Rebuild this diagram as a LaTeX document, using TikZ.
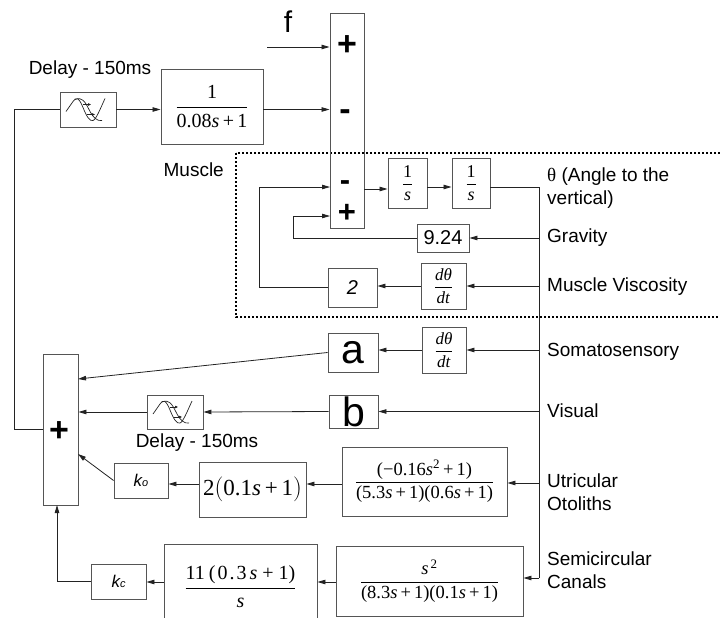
\documentclass[tikz,border=0pt]{standalone}
\usepackage{fontspec}
\setmainfont{Liberation Sans}
\newfontfamily\tm{Liberation Serif}
\usetikzlibrary{arrows.meta}
\definecolor{boxc}{RGB}{85,85,85}
\definecolor{linec}{RGB}{35,35,35}
\newcommand\sv{\textit{s}}
\newcommand\fr[2]{$\displaystyle\frac{\hbox{\tm #1}}{\hbox{\tm #2}}$}
\tikzset{
  blk/.style={draw=boxc, line width=0.9pt, inner sep=0pt, rectangle},
  conn/.style={draw=linec, line width=0.8pt},
  arr/.style={conn, -{Triangle[length=8pt,width=4.5pt]}},
  lbl/.style={font=\fontsize{19}{23}\selectfont, inner sep=0pt},
  sym/.style={font=\fontsize{34}{34}\selectfont\bfseries, inner sep=0pt},
  symsm/.style={font=\fontsize{31}{31}\selectfont\bfseries, inner sep=0pt},
  icon/.style={draw=linec, line width=0.7pt},
  iconarr/.style={draw=linec, line width=0.6pt, -{Triangle[length=3pt,width=2.5pt]}},
}
\begin{document}
\begin{tikzpicture}[x=1pt, y=-1pt]
\useasboundingbox (0,0) rectangle (720,618);
% dotted region
\draw[dotted, line width=2pt] (236,153) rectangle (740,317);

% top summing block
\node[blk, minimum width=34pt, minimum height=215pt] (sumA) at (347,120.5) {};
\node[sym] (pA1) at (347,46) {+};
\node[sym] (mA1) at (345,115) {-};
\node[symsm] (mA2) at (345,186) {-};
\node[symsm] (pA2) at (347,213) {+};
\node[font=\fontsize{30}{30}\selectfont, inner sep=0pt] (fl) at (288,22) {f};
\coordinate (fin) at (267,47);
\draw[arr] (fin) -- (fin -| sumA.west);

% delay + first order block
\node[lbl] (dl1) at (90,70) {Delay - 150ms};
\node[blk, minimum width=56pt, minimum height=35pt] (delayA) at (88,109.5) {};
\begin{scope}[shift={(delayA.center)}]
  \draw[icon] (-22,2) -- (-15,-8) .. controls (-12,-13) and (-9,-12) .. (-5,-2) .. controls (-1,8) and (2,12) .. (5,11) .. controls (8,10) and (12,0) .. (17,-11);
  \draw[icon] (-13,-10) .. controls (-6,-13) and (-3,-8) .. (1,0) .. controls (5,8) and (9,12) .. (14,11);
  \draw[iconarr] (-5,-5) -- (3,-5);
  \draw[iconarr] (-1,5) -- (7,5);
\end{scope}
\node[blk, minimum width=102pt, minimum height=75pt, font=\fontsize{20}{24}\selectfont] (tfA) at (212,106.5) {\fr{1}{0.08\sv\,+\,1}};
\draw[arr] (delayA.east) -- (delayA.east -| tfA.west);
\draw[arr] (tfA.east |- delayA.east) -- (sumA.west |- delayA.east);

\node[lbl, anchor=east] (musc) at (224,170) {Muscle};

% integrators
\node[blk, minimum width=39pt, minimum height=50pt, font=\fontsize{18}{22}\selectfont] (int1) at (407.5,183) {\fr{1}{\sv}};
\node[blk, minimum width=38pt, minimum height=50pt, font=\fontsize{18}{22}\selectfont] (int2) at (471,183) {\fr{1}{\sv}};
\draw[arr] (sumA.east |- 0,189) -- ([yshift=-6pt]int1.west);
\draw[arr] ([yshift=-4pt]int1.east) -- ([yshift=-4pt]int2.west);
\coordinate (busT) at (539,187);
\coordinate (busB) at (539,578);
\draw[conn] ([yshift=-4pt]int2.east) -- (busT) -- (busB);

% gravity
\node[blk, minimum width=52pt, minimum height=28pt, font=\fontsize{20}{22}\selectfont] (g924) at (443,238) {9.24};
\coordinate (plusIn) at (330,216);
\coordinate (minusIn) at (330,187);
\draw[arr] (busT |- g924.east) -- (g924.east);
\draw[arr] (g924.west) -- (293,238) |- (plusIn);

% viscosity
\node[blk, minimum width=45pt, minimum height=46pt, font=\fontsize{17}{20}\selectfont] (ddtA) at (443.5,286) {\fr{\textit{dθ}}{\textit{dt}}};
\node[blk, minimum width=49pt, minimum height=39pt, font=\fontsize{20}{22}\selectfont\itshape] (two) at (352.5,287.5) {2};
\draw[arr] (busT |- ddtA.east) -- (ddtA.east);
\draw[arr] (ddtA.west) -- (ddtA.west -| two.east);
\draw[arr] (two.west) -- (259,287.5) |- (minusIn);

% right labels
\node[lbl, anchor=west, align=left] (lth) at (547,188) {{\tm θ} (Angle to the\\vertical)};
\node[lbl, anchor=west] (lgr) at (547,238) {Gravity};
\node[lbl, anchor=west] (lmv) at (547,287) {Muscle Viscosity};
\node[lbl, anchor=west] (lso) at (547,352) {Somatosensory};
\node[lbl, anchor=west] (lvi) at (547,411) {Visual};
\node[lbl, anchor=west, align=left] (lut) at (547,492) {Utricular\\Otoliths};
\node[lbl, anchor=west, align=left] (lsc) at (547,570) {Semicircular\\Canals};

% lower summing block
\node[blk, minimum width=35pt, minimum height=151pt] (sumB) at (60.5,429.5) {};
\node[sym] (pB) at (59,432) {+};
\draw[conn] (sumB.west) -- (14,429.5) |- (delayA.west);

% somatosensory
\node[blk, minimum width=44pt, minimum height=46pt, font=\fontsize{17}{20}\selectfont] (ddtB) at (444,350) {\fr{\textit{dθ}}{\textit{dt}}};
\node[blk, minimum width=50pt, minimum height=39pt, font=\fontsize{41}{41}\selectfont] (aBox) at (353,352.5) {a};
\coordinate (aIn) at (78,379);
\draw[arr] (busT |- ddtB.east) -- (ddtB.east);
\draw[arr] (ddtB.west) -- (ddtB.west -| aBox.east);
\draw[arr] (aBox.west) -- (aIn);

% visual
\node[blk, minimum width=49pt, minimum height=33pt, font=\fontsize{41}{41}\selectfont] (bBox) at (353.5,411.5) {b};
\node[blk, minimum width=56pt, minimum height=34pt] (delayB) at (175,412) {};
\begin{scope}[shift={(delayB.center)}]
  \draw[icon] (-22,2) -- (-15,-8) .. controls (-12,-13) and (-9,-12) .. (-5,-2) .. controls (-1,8) and (2,12) .. (5,11) .. controls (8,10) and (12,0) .. (17,-11);
  \draw[icon] (-13,-10) .. controls (-6,-13) and (-3,-8) .. (1,0) .. controls (5,8) and (9,12) .. (14,11);
  \draw[iconarr] (-5,-5) -- (3,-5);
  \draw[iconarr] (-1,5) -- (7,5);
\end{scope}
\node[lbl] (dl2) at (197,443) {Delay - 150ms};
\draw[arr] (busT |- bBox.east) -- (bBox.east);
\draw[arr] (bBox.west) -- (delayB.east);
\draw[arr] (delayB.west) -- (delayB.west -| sumB.east);

% utricular
\node[blk, minimum width=165pt, minimum height=69pt, font=\fontsize{18.5}{22}\selectfont] (utr) at (424.5,481.5) {\fr{(−0.16\sv\textsuperscript{2}\,+\,1)}{(5.3\sv\,+\,1)(0.6\sv\,+\,1)}};
\node[blk, minimum width=107pt, minimum height=55pt, font=\fontsize{23}{26}\selectfont] (twoP) at (252.5,489.5) {\tm 2$\bigl($0.1\sv\,+\,1$\bigr)$};
\node[blk, minimum width=54pt, minimum height=35pt, font=\fontsize{17}{20}\selectfont\itshape] (k0) at (141,480.5) {k{\fontsize{11}{11}\selectfont o}};
\coordinate (kIn) at (78,454);
\draw[arr] (busT |- 0,483) -- (utr.east |- 0,483);
\draw[arr] (utr.west |- 0,484) -- (twoP.east |- 0,484);
\draw[arr] (twoP.west |- 0,484) -- (k0.east |- 0,484);
\draw[arr] (k0.west) -- (kIn);

% semicircular
\node[blk, minimum width=187pt, minimum height=70pt, font=\fontsize{18.5}{22}\selectfont] (semi) at (429.5,581) {\fr{\sv\textsuperscript{\,2}}{(8.3\sv\,+\,1)(0.1\sv\,+\,1)}};
\node[blk, minimum width=153pt, minimum height=86pt, font=\fontsize{20}{24}\selectfont] (elev) at (240.5,587) {\raisebox{-2pt}{\fr{11\hspace{0.2em}(\hspace{0.1em}0\hspace{0.1em}.\hspace{0.1em}3\hspace{0.15em}\sv\hspace{0.25em}+\hspace{0.25em}1)}{\sv}}};
\node[blk, minimum width=55pt, minimum height=35pt, font=\fontsize{17}{20}\selectfont\itshape] (kc) at (118.5,581.5) {k{\fontsize{11}{11}\selectfont c}};
\draw[arr] (busB) -- (busB -| semi.east);
\draw[arr] (semi.west |- 0,582) -- (elev.east |- 0,582);
\draw[arr] (elev.west |- 0,582) -- (kc.east |- 0,582);
\draw[arr] (kc.west) -- (57,581.5) -- (57,505);
\end{tikzpicture}
\end{document}
